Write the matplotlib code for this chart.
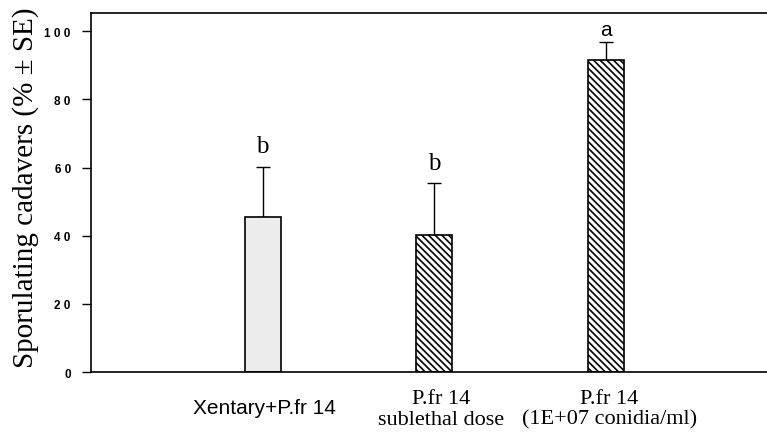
import matplotlib
matplotlib.use("Agg")
import matplotlib.pyplot as plt

# Data
treatments = ["Xentary+P.fr 14", "P.fr 14\nsublethal dose", "P.fr 14\n(1E+07 conidia/ml)"]
means = [45.5, 40.2, 91.6]
errors = [14.7, 15.2, 5.1]
letters = ["b", "b", "a"]
yticks = [0, 20, 40, 60, 80, 100]

plt.rcParams["hatch.linewidth"] = 1.2

fig = plt.figure(figsize=(7.67, 4.39), dpi=100)
ax = fig.add_axes([0.1186, 0.150, 0.8814, 0.818])

pos = [1, 2, 3]
faces = ["#ececec", "white", "white"]
hatches = [None, "\\\\\\\\\\", "\\\\\\\\\\"]
for p, m, e, fc, h in zip(pos, means, errors, faces, hatches):
    ax.bar(p, m, width=0.21, color=fc, edgecolor="black", linewidth=1.2, hatch=h, zorder=2)
    ax.errorbar(p, m, yerr=[[0], [e]], fmt="none", ecolor="black", elinewidth=1.0,
                capsize=5, capthick=1.0, zorder=1)

# significance letters
letter_style = [("Liberation Serif", 18, 2.8), ("Liberation Serif", 18, 2.8), ("Liberation Sans", 15, 1.0)]
for p, m, e, t, (f, s, gap) in zip(pos, means, errors, letters, letter_style):
    ax.text(p, m + e + gap, t, ha="center", va="bottom", fontsize=s, family=f)

ax.set_xlim(0, 3.94)
ax.set_ylim(0, 105.3)
ax.set_yticks(yticks)
ax.set_yticklabels([" ".join(str(v)) for v in yticks], family="Liberation Sans",
                   fontsize=8.5, fontweight="bold")
ax.tick_params(axis="y", direction="out", length=6.5, width=1.0, pad=8)
ax.set_xticks([])
ax.spines["right"].set_visible(False)
for s in ["left", "top", "bottom"]:
    ax.spines[s].set_linewidth(1.2)

ax.set_ylabel("Sporulating cadavers (% ± SE)", family="Liberation Serif", fontsize=21)
ax.yaxis.set_label_coords(-0.077, 0.515)

# category labels under the bars
label_dx = [0.01, 0.04, 0.02]
label_fonts = [("Liberation Sans", 15), ("Liberation Serif", 16), ("Liberation Serif", 16)]
label_y = [-7.6, -5.0, -5.0]
for p, dx, y, t, (f, s) in zip(pos, label_dx, label_y, treatments, label_fonts):
    ax.text(p + dx, y, t, ha="center", va="top", family=f, fontsize=s, linespacing=1.1)

fig.savefig("out.png", dpi=100)
plt.close(fig)
